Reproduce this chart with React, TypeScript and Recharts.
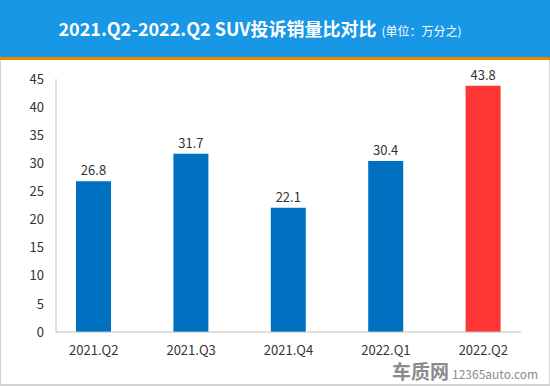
import React from 'react';
import { BarChart, Bar, XAxis, YAxis, Cell, LabelList } from 'recharts';

const quarters = ['2021.Q2', '2021.Q3', '2021.Q4', '2022.Q1', '2022.Q2'];
const ratios = [26.8, 31.7, 22.1, 30.4, 43.8];
const barColors = ['#0070c0', '#0070c0', '#0070c0', '#0070c0', '#ff3636'];
const yTicks = [0, 5, 10, 15, 20, 25, 30, 35, 40, 45];

const FONT = '"Microsoft YaHei", "Noto Sans CJK SC", "Open Sans", sans-serif';

const App: React.FC = () => {
    const data = quarters.map((q, i) => ({ name: q, value: ratios[i] }));

    return (
        <div style={{ position: 'absolute', left: 0, top: 0, width: 550, height: 386, background: '#fff', fontFamily: FONT }}>
            <div
                style={{
                    position: 'absolute', left: 0, top: 0, width: 520, height: 57, paddingRight: 30, background: '#1797e6',
                    borderBottom: '3px solid #f08300', color: '#fff', textAlign: 'center', lineHeight: '57px',
                    whiteSpace: 'nowrap',
                }}
            >
                <span style={{ fontSize: 18, fontWeight: 'bold' }}>2021.Q2-2022.Q2 SUV投诉销量比对比</span>
                <span style={{ fontSize: 12, marginLeft: 5 }}>(单位：万分之)</span>
            </div>
            <div
                style={{
                    position: 'absolute', left: 0, top: 60, width: 548, height: 324,
                    borderLeft: '1px solid #d4d4d4', borderRight: '1px solid #d4d4d4', borderBottom: '2px solid #d4d4d4',
                }}
            />
            <div style={{ position: 'absolute', left: 0, top: 60 }}>
                <BarChart width={550} height={326} data={data} margin={{ top: 19, right: 29, bottom: 24, left: 1 }}>
                    <XAxis
                        dataKey="name"
                        axisLine={{ stroke: '#bfbfbf' }}
                        tickLine={false}
                        height={30}
                        padding={{ left: -11, right: -11 }}
                        tick={{ fill: '#333', fontSize: 13, fontFamily: FONT }}
                        tickMargin={8}
                    />
                    <YAxis
                        domain={[0, 45]}
                        ticks={yTicks}
                        width={55}
                        axisLine={{ stroke: '#bfbfbf' }}
                        tickLine={false}
                        tick={{ fill: '#333', fontSize: 13, fontFamily: FONT }}
                        tickMargin={6}
                        interval={0}
                    />
                    <Bar dataKey="value" barSize={35} isAnimationActive={false}>
                        {data.map((d, i) => (
                            <Cell key={d.name} fill={barColors[i]} />
                        ))}
                        <LabelList dataKey="value" position="top" offset={6} style={{ fill: '#333', fontSize: 13, fontFamily: FONT }} />
                    </Bar>
                </BarChart>
            </div>
            <div style={{ position: 'absolute', left: 392, top: 361, height: 20, lineHeight: '20px', color: '#8c8c8c', whiteSpace: 'nowrap' }}>
                <span style={{ fontSize: 19, fontWeight: 'bold' }}>车质网</span>
                <span style={{ fontSize: 12, marginLeft: 3 }}>12365auto.com</span>
            </div>
        </div>
    );
};

export default App;
